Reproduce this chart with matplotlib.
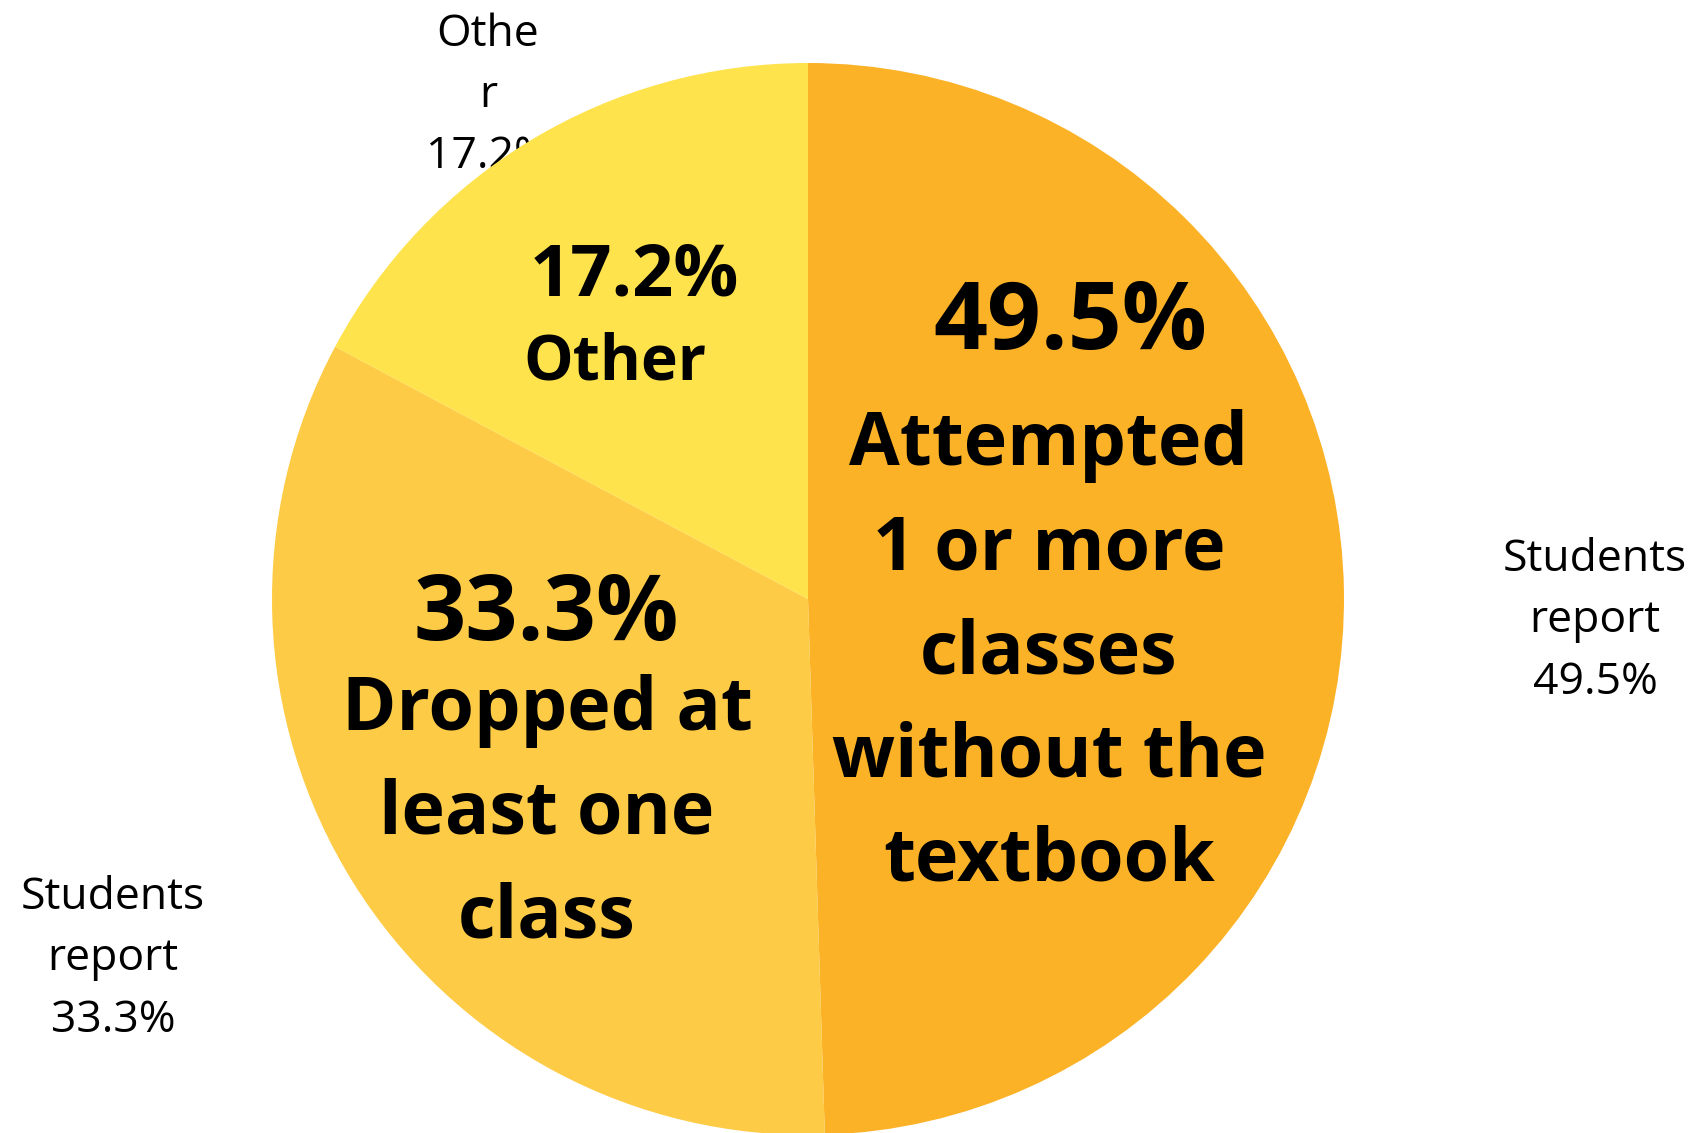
import matplotlib.pyplot as plt

# slice data (clockwise from 12 o'clock)
categories = ['Attempted\n1 or more\nclasses\nwithout the\ntextbook',
              'Dropped at\nleast one\nclass',
              'Other']
values = [49.5, 33.3, 17.2]
outer_labels = ['Students\nreport', 'Students\nreport', 'Othe\nr']
colors = ['#FBB227', '#FDCB45', '#FEE34C']

W, H = 1699, 1133
fig = plt.figure(figsize=(W / 100, H / 100), dpi=100)
ax = fig.add_axes([0, 0, 1, 1])

cx, cy, r = 808, H - 599, 536
wedges, _ = ax.pie(values, colors=colors, startangle=90, counterclock=False,
                   center=(cx, cy), radius=r,
                   wedgeprops=dict(linewidth=0, zorder=2))
ax.set_xlim(0, W)
ax.set_ylim(0, H)
ax.axis('off')

font = 'Open Sans'

# big labels inside the slices
ax.text(1070, H - 324, f'{values[0]}%', ha='center', va='center',
        fontsize=68, fontweight='bold', family=font, zorder=3)
ax.text(1049, H - 654, categories[0], ha='center', va='center',
        fontsize=53, fontweight='bold', family=font, linespacing=1.535, zorder=3)

ax.text(546, H - 616, f'{values[1]}%', ha='center', va='center',
        fontsize=66, fontweight='bold', family=font, zorder=3)
ax.text(547, H - 815, categories[1], ha='center', va='center',
        fontsize=53, fontweight='bold', family=font, linespacing=1.535, zorder=3)

ax.text(634, H - 276, f'{values[2]}%', ha='center', va='center',
        fontsize=52, fontweight='bold', family=font, zorder=3)
ax.text(615, H - 363, categories[2], ha='center', va='center',
        fontsize=45, fontweight='bold', family=font, zorder=3)

# small outside labels (the top one sits behind the pie)
outer_pos = [(1595, H - 621), (113, H - 959), (488, H - 96)]
for (x, y), lab, v in zip(outer_pos, outer_labels, values):
    ax.text(x, y, f'{lab}\n{v}%', ha='center', va='center',
            fontsize=32, family=font, linespacing=1.5, zorder=1)

fig.savefig('out.png', dpi=100)
